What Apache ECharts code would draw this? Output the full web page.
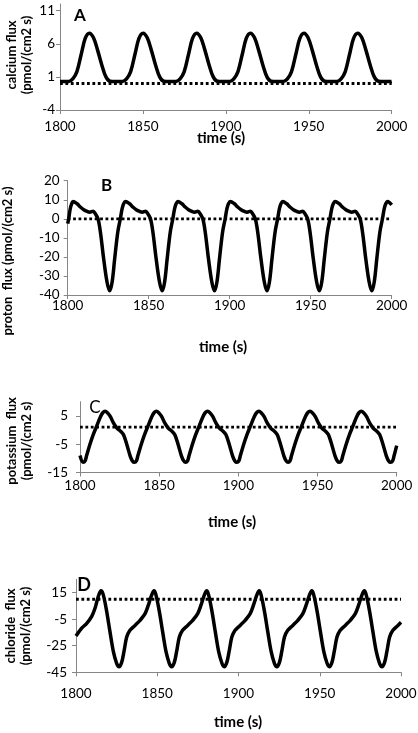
<!DOCTYPE html>
<html><head><meta charset="utf-8">
<script src="https://cdn.jsdelivr.net/npm/echarts@6/dist/echarts.min.js"></script>
<style>html,body{margin:0;padding:0;background:#fff}#c{width:418px;height:733px}</style>
</head><body><div id="c"></div>
<script>
const xTicks = [1800, 1850, 1900, 1950, 2000];
const caTicks = [-4, 1, 6, 11];
const prTicks = [-40, -30, -20, -10, 0, 10, 20];
const kTicks = [-15, -5, 5];
const clTicks = [-45, -25, -5, 15];
const baselines = [0, 0, 1, 10];

const caTime = [1800,
1805.2,1807.7,1810.2,1812.7,1815.2,1817.7,1820.2,1822.7,1825.2,1827.7,1830.2,1833.7,
1837.6,1840.1,1842.6,1845.1,1847.6,1850.1,1852.6,1855.1,1857.6,1860.1,1862.6,1866.1,
1869.9,1872.4,1874.9,1877.4,1879.9,1882.4,1884.9,1887.4,1889.9,1892.4,1894.9,1898.4,
1902.3,1904.8,1907.3,1909.8,1912.3,1914.8,1917.3,1919.8,1922.3,1924.8,1927.3,1930.8,
1934.6,1937.1,1939.6,1942.1,1944.6,1947.1,1949.6,1952.1,1954.6,1957.1,1959.6,1963.1,
1967.0,1969.5,1972.0,1974.5,1977.0,1979.5,1982.0,1984.5,1987.0,1989.5,1992.0,1995.5,
1999.4,2000];
const caFlux = [0.3,
0.3,0.7,1.8,4.3,6.8,7.6,6.9,5.0,2.8,1.0,0.35,0.3,
0.3,0.7,1.8,4.3,6.8,7.6,6.9,5.0,2.8,1.0,0.35,0.3,
0.3,0.7,1.8,4.3,6.8,7.6,6.9,5.0,2.8,1.0,0.35,0.3,
0.3,0.7,1.8,4.3,6.8,7.6,6.9,5.0,2.8,1.0,0.35,0.3,
0.3,0.7,1.8,4.3,6.8,7.6,6.9,5.0,2.8,1.0,0.35,0.3,
0.3,0.7,1.8,4.3,6.8,7.6,6.9,5.0,2.8,1.0,0.35,0.3,
0.3,0.32];

const prTime = [1800,1800.6,1801.6,1802.5,1803.3,
1805.8,1807.8,1809.9,1812.0,1813.6,1815.7,1817.1,1818.7,1820.2,1822.2,1824.3,1825.9,1827.4,1829.0,1830.9,1832.5,1833.6,1834.6,1835.6,
1838.2,1840.2,1842.3,1844.4,1846.0,1848.1,1849.5,1851.1,1852.6,1854.6,1856.7,1858.3,1859.8,1861.4,1863.3,1864.9,1866.0,1867.0,1868.0,
1870.5,1872.5,1874.6,1876.7,1878.3,1880.4,1881.8,1883.4,1884.9,1886.9,1889.0,1890.6,1892.1,1893.7,1895.6,1897.2,1898.3,1899.3,1900.3,
1902.9,1904.9,1907.0,1909.1,1910.7,1912.8,1914.2,1915.8,1917.3,1919.3,1921.4,1923.0,1924.5,1926.1,1928.0,1929.6,1930.7,1931.7,1932.7,
1935.2,1937.2,1939.3,1941.4,1943.0,1945.1,1946.5,1948.1,1949.6,1951.6,1953.7,1955.3,1956.8,1958.4,1960.3,1961.9,1963.0,1964.0,1965.0,
1967.6,1969.6,1971.7,1973.8,1975.4,1977.5,1978.9,1980.5,1982.0,1984.0,1986.1,1987.7,1989.2,1990.8,1992.7,1994.3,1995.4,1996.4,1997.4,
2000];
const prFlux = [-2.5,0,5.4,8.0,9.1,
7.9,6.2,4.8,3.9,3.5,4.0,2.6,0,-7,-21,-33.3,-37.8,-33.3,-21,-7,0,5.4,8.0,9.1,
7.9,6.2,4.8,3.9,3.5,4.0,2.6,0,-7,-21,-33.3,-37.8,-33.3,-21,-7,0,5.4,8.0,9.1,
7.9,6.2,4.8,3.9,3.5,4.0,2.6,0,-7,-21,-33.3,-37.8,-33.3,-21,-7,0,5.4,8.0,9.1,
7.9,6.2,4.8,3.9,3.5,4.0,2.6,0,-7,-21,-33.3,-37.8,-33.3,-21,-7,0,5.4,8.0,9.1,
7.9,6.2,4.8,3.9,3.5,4.0,2.6,0,-7,-21,-33.3,-37.8,-33.3,-21,-7,0,5.4,8.0,9.1,
7.9,6.2,4.8,3.9,3.5,4.0,2.6,0,-7,-21,-33.3,-37.8,-33.3,-21,-7,0,5.4,8.0,9.1,
7.3];

const kTime = [1800,
1802.0,1803.2,1804.1,1806.2,1808.3,1810.4,1813.0,1814.5,1815.9,1817.3,1819.1,1821.2,1823.3,1825.8,1827.5,1829.6,1831.7,1833.1,
1834.4,1835.6,1836.5,1838.6,1840.7,1842.8,1845.4,1846.9,1848.3,1849.7,1851.5,1853.6,1855.7,1858.2,1859.9,1862.0,1864.1,1865.5,
1866.7,1867.9,1868.8,1870.9,1873.0,1875.1,1877.7,1879.2,1880.6,1882.0,1883.8,1885.9,1888.0,1890.5,1892.2,1894.3,1896.4,1897.8,
1899.1,1900.3,1901.2,1903.3,1905.4,1907.5,1910.1,1911.6,1913.0,1914.4,1916.2,1918.3,1920.4,1922.9,1924.6,1926.7,1928.8,1930.2,
1931.4,1932.6,1933.5,1935.6,1937.7,1939.8,1942.4,1943.9,1945.3,1946.7,1948.5,1950.6,1952.7,1955.2,1956.9,1959.0,1961.1,1962.5,
1963.8,1965.0,1965.9,1968.0,1970.1,1972.2,1974.8,1976.3,1977.7,1979.1,1980.9,1983.0,1985.1,1987.6,1989.3,1991.4,1993.5,1994.9,
1996.2,1997.4,1998.3,2000];
const kFlux = [-9.0,
-11.4,-10.9,-9.2,-5.2,-1.7,1.2,4.8,6.2,6.6,6.1,4.8,2.4,0.7,-0.5,-1.7,-5.2,-9.2,-10.9,
-11.4,-10.9,-9.2,-5.2,-1.7,1.2,4.8,6.2,6.6,6.1,4.8,2.4,0.7,-0.5,-1.7,-5.2,-9.2,-10.9,
-11.4,-10.9,-9.2,-5.2,-1.7,1.2,4.8,6.2,6.6,6.1,4.8,2.4,0.7,-0.5,-1.7,-5.2,-9.2,-10.9,
-11.4,-10.9,-9.2,-5.2,-1.7,1.2,4.8,6.2,6.6,6.1,4.8,2.4,0.7,-0.5,-1.7,-5.2,-9.2,-10.9,
-11.4,-10.9,-9.2,-5.2,-1.7,1.2,4.8,6.2,6.6,6.1,4.8,2.4,0.7,-0.5,-1.7,-5.2,-9.2,-10.9,
-11.4,-10.9,-9.2,-5.2,-1.7,1.2,4.8,6.2,6.6,6.1,4.8,2.4,0.7,-0.5,-1.7,-5.2,-9.2,-10.9,
-11.4,-10.9,-9.2,-5.5];

const clTime = [1800,1803.5,1806.6,1809.6,1811.7,1813.7,1815.4,1816.8,1818.9,1820.9,1823.0,1825.0,
1826.5,1828.1,1829.5,1831.2,1833.2,1836.3,1839.4,1842.5,1844.5,1846.6,1848.0,1849.2,1851.3,1853.3,1855.4,1857.4,
1858.9,1860.5,1861.9,1863.6,1865.6,1868.7,1871.8,1874.9,1876.9,1879.0,1880.4,1881.6,1883.7,1885.7,1887.8,1889.8,
1891.2,1892.8,1894.2,1895.9,1897.9,1901.0,1904.1,1907.2,1909.2,1911.3,1912.7,1913.9,1916.0,1918.0,1920.1,1922.1,
1923.6,1925.2,1926.6,1928.3,1930.3,1933.4,1936.5,1939.6,1941.6,1943.7,1945.1,1946.3,1948.4,1950.4,1952.5,1954.5,
1955.9,1957.5,1958.9,1960.6,1962.6,1965.7,1968.8,1971.9,1973.9,1976.0,1977.4,1978.6,1980.7,1982.7,1984.8,1986.8,
1988.3,1989.9,1991.3,1993.0,1995.0,1998.1,2000];
const clFlux = [-17.7,-11.8,-8.1,-3.1,3.2,12.0,16.3,13.3,0.7,-14.4,-29.5,-38.2,
-40.8,-37.5,-29.5,-18.5,-13.4,-9.7,-5.9,-0.8,5.5,13.3,16.3,13.3,0.7,-14.4,-29.5,-38.2,
-40.8,-37.5,-29.5,-18.5,-13.4,-9.7,-5.9,-0.8,5.5,13.3,16.3,13.3,0.7,-14.4,-29.5,-38.2,
-40.8,-37.5,-29.5,-18.5,-13.4,-9.7,-5.9,-0.8,5.5,13.3,16.3,13.3,0.7,-14.4,-29.5,-38.2,
-40.8,-37.5,-29.5,-18.5,-13.4,-9.7,-5.9,-0.8,5.5,13.3,16.3,13.3,0.7,-14.4,-29.5,-38.2,
-40.8,-37.5,-29.5,-18.5,-13.4,-9.7,-5.9,-0.8,5.5,13.3,16.3,13.3,0.7,-14.4,-29.5,-38.2,
-40.8,-37.5,-29.5,-18.5,-13.4,-9.7,-7.4];

const FONT = 'Lato, "Open Sans", sans-serif';
const AXC = '#868686';
const zip = (t, v) => t.map((x, i) => [x, v[i]]);
const series4 = [zip(caTime, caFlux), zip(prTime, prFlux), zip(kTime, kFlux), zip(clTime, clFlux)];
const yTicks = [caTicks, prTicks, kTicks, clTicks];
const yRange = [[-4, 12], [-40, 20], [-15, 10], [-45, 25]];

const grids = [
  {left: 60, top: 4, width: 331.7, height: 106},
  {left: 67.7, top: 180.7, width: 324, height: 114.3},
  {left: 80, top: 401.7, width: 316.7, height: 70.8},
  {left: 76, top: 579.3, width: 325, height: 93}
];
const xLabelMargin = [10, 4, 6, 14.5];
const yLabelMargin = [5, 8, 12, 9];
const plain = v => String(v);

const option = {
  animation: false,
  backgroundColor: '#fff',
  grid: grids.map(g => Object.assign({containLabel: false, outerBoundsMode: 'none'}, g)),
  xAxis: grids.map((g, i) => ({
    type: 'value', gridIndex: i, min: xTicks[0], max: xTicks[xTicks.length - 1], interval: 50,
    axisLine: {show: true, onZero: false, lineStyle: {color: AXC, width: 1}},
    axisTick: {show: true, inside: false, length: 4, lineStyle: {color: AXC}},
    axisLabel: {margin: xLabelMargin[i], color: '#000', fontSize: 13.5, fontFamily: FONT, customValues: xTicks, formatter: plain},
    splitLine: {show: false}
  })),
  yAxis: grids.map((g, i) => ({
    type: 'value', gridIndex: i, min: yRange[i][0], max: yRange[i][1],
    axisLine: {show: true, onZero: false, lineStyle: {color: AXC, width: 1}},
    axisTick: {show: true, inside: false, length: 4, lineStyle: {color: AXC}, customValues: yTicks[i]},
    axisLabel: {margin: yLabelMargin[i], color: '#000', fontSize: 13.5, fontFamily: FONT, customValues: yTicks[i], formatter: plain},
    splitLine: {show: false}
  })),
  series: [].concat(...series4.map((d, i) => [
    {type: 'line', xAxisIndex: i, yAxisIndex: i, data: d, showSymbol: false, smooth: 0.35,
     lineStyle: {color: '#000', width: 3.5}, silent: true, z: 2},
    {type: 'line', xAxisIndex: i, yAxisIndex: i,
     data: [[xTicks[0], baselines[i]], [xTicks[xTicks.length - 1], baselines[i]]],
     showSymbol: false, lineStyle: {color: '#000', width: 2.8, type: [2.8, 2.6]}, silent: true, z: 3}
  ])),
  graphic: [
    {type: 'text', x: 80, y: 16, style: {text: 'A', font: 'bold 17px ' + FONT, fill: '#000', align: 'center', verticalAlign: 'middle'}},
    {type: 'text', x: 106.7, y: 186, style: {text: 'B', font: 'bold 17px ' + FONT, fill: '#000', align: 'center', verticalAlign: 'middle'}},
    {type: 'text', x: 95, y: 407.5, style: {text: 'C', font: '17px ' + FONT, fill: '#000', align: 'center', verticalAlign: 'middle'}},
    {type: 'text', x: 84, y: 585.5, style: {text: 'D', font: 'bold 18px ' + FONT, fill: '#000', align: 'center', verticalAlign: 'middle'}},
    {type: 'text', x: 221, y: 138, style: {text: 'time (s)', font: 'bold 15px ' + FONT, fill: '#000', align: 'center', verticalAlign: 'middle'}},
    {type: 'text', x: 223, y: 347.5, style: {text: 'time (s)', font: 'bold 15px ' + FONT, fill: '#000', align: 'center', verticalAlign: 'middle'}},
    {type: 'text', x: 232, y: 522.5, style: {text: 'time (s)', font: 'bold 15px ' + FONT, fill: '#000', align: 'center', verticalAlign: 'middle'}},
    {type: 'text', x: 238, y: 721.7, style: {text: 'time (s)', font: 'bold 15px ' + FONT, fill: '#000', align: 'center', verticalAlign: 'middle'}},
    {type: 'text', x: 19.5, y: 55, rotation: Math.PI / 2, style: {text: 'calcium flux\n(pmol/(cm2 s)', font: 'bold 13px ' + FONT, lineHeight: 15, fill: '#000', align: 'center', verticalAlign: 'middle'}},
    {type: 'text', x: 8, y: 261, rotation: Math.PI / 2, style: {text: 'proton  flux (pmol/(cm2 s)', font: 'bold 13px ' + FONT, fill: '#000', align: 'center', verticalAlign: 'middle'}},
    {type: 'text', x: 19.5, y: 441, rotation: Math.PI / 2, style: {text: 'potassium  flux\n(pmol/(cm2 s)', font: 'bold 13px ' + FONT, lineHeight: 15, fill: '#000', align: 'center', verticalAlign: 'middle'}},
    {type: 'text', x: 18, y: 626, rotation: Math.PI / 2, style: {text: 'chloride  flux\n(pmol/(cm2 s)', font: 'bold 13px ' + FONT, lineHeight: 15, fill: '#000', align: 'center', verticalAlign: 'middle'}}
  ]
};
const chart = echarts.init(document.getElementById('c'), null, {renderer: 'canvas'});
chart.setOption(option);
</script></body></html>
